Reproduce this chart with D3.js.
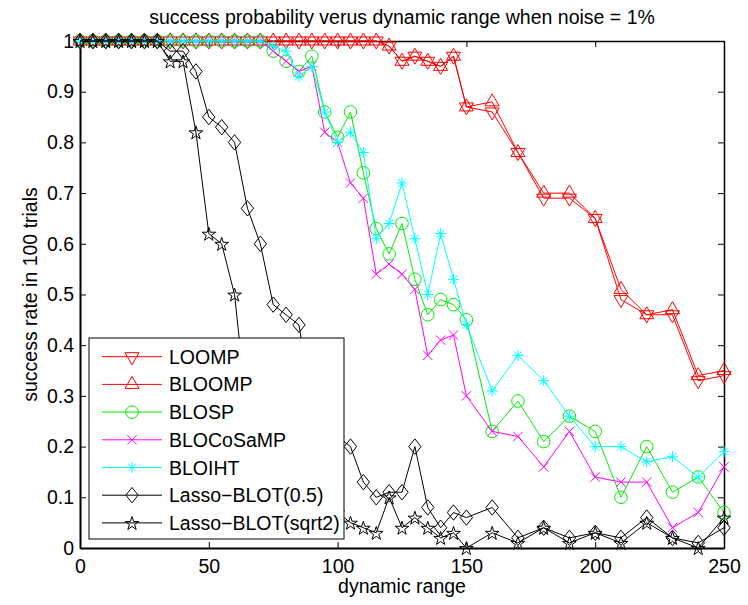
<!DOCTYPE html>
<html>
<head>
<meta charset="utf-8">
<script src="https://cdn.jsdelivr.net/npm/d3@7"></script>
<style>
  html, body { margin: 0; padding: 0; background: #fff; }
  svg { display: block; }
  text { font-family: "Liberation Sans", Arial, Helvetica, sans-serif; fill: #000; }
</style>
</head>
<body>
<svg id="chart" width="748" height="605"></svg>
<script>
// ---- data ----
const dynamicRange = [0, 5, 10, 15, 20, 25, 30, 35, 40, 45, 50, 55, 60, 65, 70, 75, 80, 85, 90, 95,
  100, 105, 110, 115, 120, 125, 130, 135, 140, 145, 150, 160, 170, 180, 190, 200, 210, 220, 230, 240, 250];

const seriesNames = ["LOOMP", "BLOOMP", "BLOSP", "BLOCoSaMP", "BLOIHT", "Lasso\u2212BLOT(0.5)", "Lasso\u2212BLOT(sqrt2)"];

const loomp = [1, 1, 1, 1, 1, 1, 1, 1, 1, 1, 1, 1, 1, 1, 1, 1, 1, 1, 1, 1,
  1, 1, 1, 1, 0.99, 0.96, 0.97, 0.96, 0.95, 0.97, 0.87, 0.86, 0.78, 0.69, 0.69, 0.65, 0.49, 0.46, 0.46, 0.33, 0.34];
const bloomp = [1, 1, 1, 1, 1, 1, 1, 1, 1, 1, 1, 1, 1, 1, 1, 1, 1, 1, 1, 1,
  1, 1, 1, 1, 0.99, 0.96, 0.97, 0.96, 0.95, 0.97, 0.87, 0.88, 0.78, 0.70, 0.70, 0.65, 0.51, 0.46, 0.47, 0.34, 0.35];
const blosp = [1, 1, 1, 1, 1, 1, 1, 1, 1, 1, 1, 1, 1, 1, 1, 0.98, 0.96, 0.94, 0.97, 0.86,
  0.81, 0.86, 0.74, 0.63, 0.58, 0.64, 0.53, 0.46, 0.49, 0.48, 0.45, 0.23, 0.29, 0.21, 0.26, 0.23, 0.10, 0.20, 0.11, 0.14, 0.07];
const blocosamp = [1, 1, 1, 1, 1, 1, 1, 1, 1, 1, 1, 1, 1, 1, 1, 0.98, 0.96, 0.94, 0.95, 0.82,
  0.80, 0.72, 0.69, 0.54, 0.56, 0.54, 0.51, 0.38, 0.41, 0.42, 0.30, 0.23, 0.22, 0.16, 0.23, 0.14, 0.13, 0.13, 0.04, 0.07, 0.16];
const bloiht = [1, 1, 1, 1, 1, 1, 1, 1, 1, 1, 1, 1, 1, 1, 1, 0.99, 0.98, 0.93, 0.95, 0.86,
  0.80, 0.82, 0.78, 0.61, 0.64, 0.72, 0.61, 0.50, 0.62, 0.53, 0.44, 0.31, 0.38, 0.33, 0.26, 0.20, 0.20, 0.17, 0.18, 0.14, 0.19];
const lassoHalf = [1, 1, 1, 1, 1, 1, 1, 0.98, 0.98, 0.94, 0.85, 0.83, 0.80, 0.67, 0.60, 0.48, 0.46, 0.44, 0.28, 0.24,
  0.22, 0.20, 0.13, 0.10, 0.11, 0.11, 0.20, 0.08, 0.04, 0.07, 0.06, 0.08, 0.02, 0.04, 0.02, 0.03, 0.02, 0.06, 0.02, 0.01, 0.04];
const lassoSqrt2 = [1, 1, 1, 1, 1, 1, 1, 0.96, 0.96, 0.82, 0.62, 0.60, 0.50, 0.26, 0.20, 0.17, 0.14, 0.12, 0.10, 0.08,
  0.07, 0.05, 0.04, 0.03, 0.10, 0.04, 0.06, 0.04, 0.02, 0.03, 0.00, 0.03, 0.01, 0.04, 0.01, 0.03, 0.01, 0.05, 0.02, 0.00, 0.06];

const xTicks = [0, 50, 100, 150, 200, 250];
const xTickLabels = ["0", "50", "100", "150", "200", "250"];
const yTicks = [0, 0.1, 0.2, 0.3, 0.4, 0.5, 0.6, 0.7, 0.8, 0.9, 1];
const yTickLabels = ["0", "0.1", "0.2", "0.3", "0.4", "0.5", "0.6", "0.7", "0.8", "0.9", "1"];

const titleText = "success probability verus dynamic range when noise = 1%";
const xLabel = "dynamic range";
const yLabel = "success rate in 100 trials";

// ---- styles ----
const seriesValues = [loomp, bloomp, blosp, blocosamp, bloiht, lassoHalf, lassoSqrt2];
const seriesColors = ["#ff0000", "#ff0000", "#00ee00", "#ff00ff", "#00ffff", "#000000", "#000000"];
const seriesMarkers = ["triDown", "triUp", "circle", "cross", "asterisk", "diamond", "pentagram"];

// marker outlines, in pixels, centred on the data point
function markerPath(kind) {
  switch (kind) {
    case "triDown": return "M0,8L-7,-4L7,-4Z";
    case "triUp": return "M0,-8L-7,4L7,4Z";
    case "circle": return "M6.3,0A6.3,6.3 0 1,1 -6.3,0A6.3,6.3 0 1,1 6.3,0Z";
    case "diamond": return "M0,-7.7L6.2,0L0,7.7L-6.2,0Z";
    case "cross": return "M-4.7,-4.7L4.7,4.7M-4.7,4.7L4.7,-4.7";
    case "asterisk": return "M-5.5,0L5.5,0M0,-5.5L0,5.5M-3.9,-3.9L3.9,3.9M-3.9,3.9L3.9,-3.9";
    case "pentagram": {
      const R = 7.2, r = R * 0.382, pts = [];
      for (let i = 0; i < 10; i++) {
        const a = -Math.PI / 2 + i * Math.PI / 5;
        const rad = i % 2 === 0 ? R : r;
        pts.push([rad * Math.cos(a), rad * Math.sin(a) + 0.8]);
      }
      return "M" + pts.map(p => p[0].toFixed(2) + "," + p[1].toFixed(2)).join("L") + "Z";
    }
  }
  return "";
}

// ---- layout ----
const svg = d3.select("#chart");
const fontSize = 19.5;
const x = d3.scaleLinear().domain([0, 250]).range([80, 724]);
const y = d3.scaleLinear().domain([0, 1]).range([548, 41]);

svg.append("rect").attr("width", 748).attr("height", 605).attr("fill", "#fff");

// axes: inward ticks on all four sides, labels on bottom and left
const tickLen = 6;
const gBottom = svg.append("g").attr("transform", `translate(0,${y(0)})`)
  .call(d3.axisBottom(x).tickValues(xTicks).tickFormat((d, i) => xTickLabels[i])
    .tickSizeInner(-tickLen).tickSizeOuter(0).tickPadding(11.5));
const gLeft = svg.append("g").attr("transform", `translate(${x(0)},0)`)
  .call(d3.axisLeft(y).tickValues(yTicks).tickFormat((d, i) => yTickLabels[i])
    .tickSizeInner(-tickLen).tickSizeOuter(0).tickPadding(6));
const gTop = svg.append("g").attr("transform", `translate(0,${y(1)})`)
  .call(d3.axisTop(x).tickValues(xTicks).tickFormat("")
    .tickSizeInner(-tickLen).tickSizeOuter(0));
const gRight = svg.append("g").attr("transform", `translate(${x(250)},0)`)
  .call(d3.axisRight(y).tickValues(yTicks).tickFormat("")
    .tickSizeInner(-tickLen).tickSizeOuter(0));

[gBottom, gLeft, gTop, gRight].forEach(g => {
  g.selectAll("text").attr("font-size", fontSize).style("font-family", null).attr("font-family", null);
  g.attr("font-family", null).attr("font-size", null);
  g.selectAll(".tick line").attr("stroke", "#000").attr("stroke-width", 1);
});
gBottom.select(".domain").attr("stroke", "#000").attr("stroke-width", 2);
gLeft.select(".domain").attr("stroke", "#000").attr("stroke-width", 2);
gTop.select(".domain").attr("stroke", "#000").attr("stroke-width", 1.3);
gRight.select(".domain").attr("stroke", "#000").attr("stroke-width", 1.5);

// ---- series ----
const line = d3.line().x((d, i) => x(dynamicRange[i])).y(d => y(d));
const plot = svg.append("g");
seriesValues.forEach((vals, si) => {
  const g = plot.append("g");
  g.append("path").attr("d", line(vals)).attr("fill", "none")
    .attr("stroke", seriesColors[si]).attr("stroke-width", 1);
  g.selectAll("path.mk").data(vals).enter().append("path").attr("class", "mk")
    .attr("transform", (d, i) => `translate(${x(dynamicRange[i])},${y(d)})`)
    .attr("d", markerPath(seriesMarkers[si]))
    .attr("fill", "none").attr("stroke", seriesColors[si]).attr("stroke-width", 1);
});

// ---- text ----
svg.append("text").attr("x", (x(0) + x(250)) / 2).attr("y", 24)
  .attr("text-anchor", "middle").attr("font-size", fontSize).text(titleText);
svg.append("text").attr("x", (x(0) + x(250)) / 2).attr("y", 593)
  .attr("text-anchor", "middle").attr("font-size", fontSize).text(xLabel);
svg.append("text").attr("transform", `translate(37,${(y(0) + y(1)) / 2}) rotate(-90)`)
  .attr("text-anchor", "middle").attr("font-size", fontSize).text(yLabel);

// ---- legend ----
const legend = svg.append("g");
legend.append("rect").attr("x", 89).attr("y", 338).attr("width", 255).attr("height", 201)
  .attr("fill", "#fff").attr("stroke", "#000").attr("stroke-width", 1);
seriesNames.forEach((name, si) => {
  const cy = 356.7 + si * 27.7;
  legend.append("line").attr("x1", 102).attr("x2", 162).attr("y1", cy).attr("y2", cy)
    .attr("stroke", seriesColors[si]).attr("stroke-width", 1);
  legend.append("path").attr("transform", `translate(132,${cy})`)
    .attr("d", markerPath(seriesMarkers[si]))
    .attr("fill", "none").attr("stroke", seriesColors[si]).attr("stroke-width", 1);
  legend.append("text").attr("x", 169).attr("y", cy + 7).attr("font-size", fontSize).text(name);
});
</script>
</body>
</html>
